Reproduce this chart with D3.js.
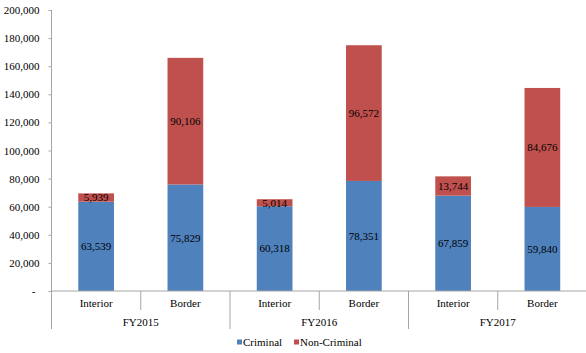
<!DOCTYPE html>
<html>
<head>
<meta charset="utf-8">
<script src="https://cdn.jsdelivr.net/npm/d3@7"></script>
<style>
  body { margin: 0; background: #fff; }
  svg { display: block; }
</style>
</head>
<body>
<div id="chart"></div>
<script>
// data
const years = ['FY2015', 'FY2016', 'FY2017']
const places = ['Interior', 'Border']
const criminal = [63539, 75829, 60318, 78351, 67859, 59840]
const nonCriminal = [5939, 90106, 5014, 96572, 13744, 84676]
const yTicks = [0, 20000, 40000, 60000, 80000, 100000, 120000, 140000, 160000, 180000, 200000]
const seriesNames = ['Criminal', 'Non-Criminal']
const colors = ['#4F81BD', '#C0504D']

const W = 586, H = 353
const font = '"Liberation Serif", "Times New Roman", serif'
const plotLeft = 51.5, plotRight = 587, plotTop = 10, base = 291

const svg = d3.select('#chart').append('svg')
  .attr('width', W).attr('height', H)

const cats = []
years.forEach(y => places.forEach(p => cats.push(y + '|' + p)))

const x = d3.scaleBand().domain(cats).range([plotLeft, plotRight]).paddingInner(0.6).paddingOuter(0.3)
const step = x.step()
const y = d3.scaleLinear().domain([0, 200000]).range([base, plotTop])

const fmt = d3.format(',')

// y axis
const yAxis = svg.append('g')
  .attr('transform', `translate(${plotLeft},0)`)
  .call(d3.axisLeft(y).tickValues(yTicks).tickSize(3).tickPadding(9)
    .tickFormat(d => d === 0 ? '-' : fmt(d)))
yAxis.select('.domain').remove()
yAxis.selectAll('.tick line').attr('stroke', '#a6a6a6')
yAxis.selectAll('.tick text')
  .style('font-family', font).style('font-size', '11px').attr('fill', '#000')
yAxis.select('.tick text').attr('dx', -4)

// vertical axis line, extended down through category rows
svg.append('line')
  .attr('x1', plotLeft).attr('x2', plotLeft).attr('y1', plotTop).attr('y2', 329)
  .attr('stroke', '#a6a6a6')

// bars
const stacks = cats.map((c, i) => ({ key: c, vals: [criminal[i], nonCriminal[i]] }))
const g = svg.append('g')
stacks.forEach(s => {
  let acc = 0
  s.vals.forEach((v, k) => {
    const y0 = y(acc), y1 = y(acc + v)
    g.append('rect')
      .attr('x', x(s.key)).attr('width', x.bandwidth())
      .attr('y', y1).attr('height', y0 - y1)
      .attr('fill', colors[k])
    g.append('text')
      .attr('x', x(s.key) + x.bandwidth() / 2)
      .attr('y', (y0 + y1) / 2)
      .attr('dy', '0.35em')
      .attr('text-anchor', 'middle')
      .style('font-family', font).style('font-size', '11px')
      .attr('fill', '#000')
      .text(fmt(v))
    acc += v
  })
})

// baseline
svg.append('line')
  .attr('x1', plotLeft).attr('x2', plotRight).attr('y1', base).attr('y2', base)
  .attr('stroke', '#a6a6a6')

// category dividers
cats.forEach((c, i) => {
  if (i === 0) return
  const xx = plotLeft + i * step
  const isGroup = i % places.length === 0
  svg.append('line')
    .attr('x1', xx).attr('x2', xx)
    .attr('y1', base).attr('y2', isGroup ? 329 : 310)
    .attr('stroke', '#a6a6a6')
})

// category labels
cats.forEach(c => {
  svg.append('text')
    .attr('x', x(c) + x.bandwidth() / 2).attr('y', 303)
    .attr('dy', '0.35em').attr('text-anchor', 'middle')
    .style('font-family', font).style('font-size', '11px')
    .text(c.split('|')[1])
})
years.forEach((yr, i) => {
  svg.append('text')
    .attr('x', plotLeft + (i * 2 + 1) * step).attr('y', 322)
    .attr('dy', '0.35em').attr('text-anchor', 'middle')
    .style('font-family', font).style('font-size', '11px')
    .text(yr)
})

// legend
const legendX = [237, 294]
seriesNames.forEach((name, k) => {
  const lg = svg.append('g').attr('transform', `translate(${legendX[k]},342)`)
  lg.append('rect').attr('x', 0).attr('y', -2.5).attr('width', 5).attr('height', 5)
    .attr('fill', colors[k])
  lg.append('text').attr('x', 6).attr('y', 0).attr('dy', '0.35em')
    .style('font-family', font).style('font-size', '11px')
    .text(name)
})
</script>
</body>
</html>
